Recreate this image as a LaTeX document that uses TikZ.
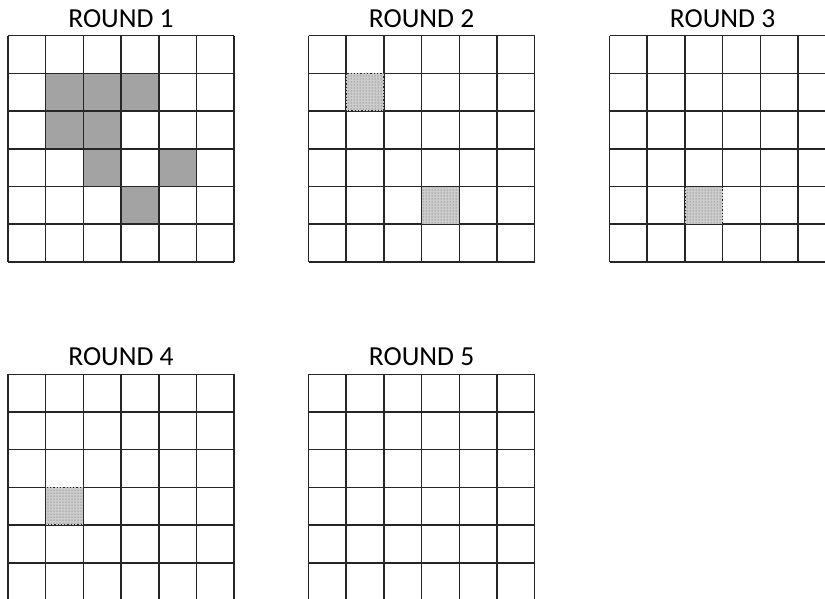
\documentclass[tikz,border=0pt]{standalone}
\usepackage{fontspec}
\setmainfont{Carlito}
\usetikzlibrary{patterns}
\tikzset{
  gridline/.style={line width=1.5pt, draw=black!85},
  solidcell/.style={fill=black!36},
  dotcellbg/.style={fill=black!20},
  dotcellpat/.style={pattern=dots, pattern color=black!65},
  dotcellborder/.style={draw=black!85, line width=1.3pt, dotted},
  roundtitle/.style={anchor=base, font=\fontsize{27.5}{32}\selectfont, text=black, inner sep=0pt}
}
\newcommand{\cellsz}{37.7}
% #1,#2 = top-left of grid
\newcommand{\gridblock}[2]{%
  \begin{scope}[shift={(#1,#2)}]
    \foreach \i in {0,...,6}{
      \draw[gridline] (\i*\cellsz,0) -- (\i*\cellsz,6*\cellsz);
      \draw[gridline] (0,\i*\cellsz) -- (6*\cellsz,\i*\cellsz);
    }
  \end{scope}}
% #1,#2 grid top-left, #3 col, #4 row
\newcommand{\solidat}[4]{%
  \fill[solidcell] (#1+#3*\cellsz,#2+#4*\cellsz) rectangle ++(\cellsz,\cellsz);}
\newcommand{\dotat}[4]{%
  \fill[dotcellbg] (#1+#3*\cellsz,#2+#4*\cellsz) rectangle ++(\cellsz,\cellsz);
  \fill[dotcellpat] (#1+#3*\cellsz,#2+#4*\cellsz) rectangle ++(\cellsz,\cellsz);
  \draw[dotcellborder] (#1+#3*\cellsz,#2+#4*\cellsz) rectangle ++(\cellsz,\cellsz);}
\begin{document}
\begin{tikzpicture}[x=1pt,y=-1pt]
  \useasboundingbox (0,0) rectangle (825,598);
  \clip (0,0) rectangle (825,598);
  \fill[white] (0,0) rectangle (825,598);
  % Round 1
  \foreach \c/\r in {1/1,2/1,3/1,1/2,2/2,2/3,4/3,3/4}{\solidat{8}{35.7}{\c}{\r}}
  \gridblock{8}{35.7}
  \node[roundtitle] (t1) at (121,27) {ROUND 1};
  % Round 2
  \gridblock{308.5}{35.7}
  \dotat{308.5}{35.7}{1}{1}
  \dotat{308.5}{35.7}{3}{4}
  \node[roundtitle] (t2) at (421.6,27) {ROUND 2};
  % Round 3
  \gridblock{609.5}{35.7}
  \dotat{609.5}{35.7}{2}{4}
  \node[roundtitle] (t3) at (722.6,27) {ROUND 3};
  % Round 4
  \gridblock{8}{374.3}
  \dotat{8}{374.3}{1}{3}
  \node[roundtitle] (t4) at (121,365.6) {ROUND 4};
  % Round 5
  \gridblock{308.5}{374.3}
  \node[roundtitle] (t5) at (421.6,365.6) {ROUND 5};
\end{tikzpicture}
\end{document}
